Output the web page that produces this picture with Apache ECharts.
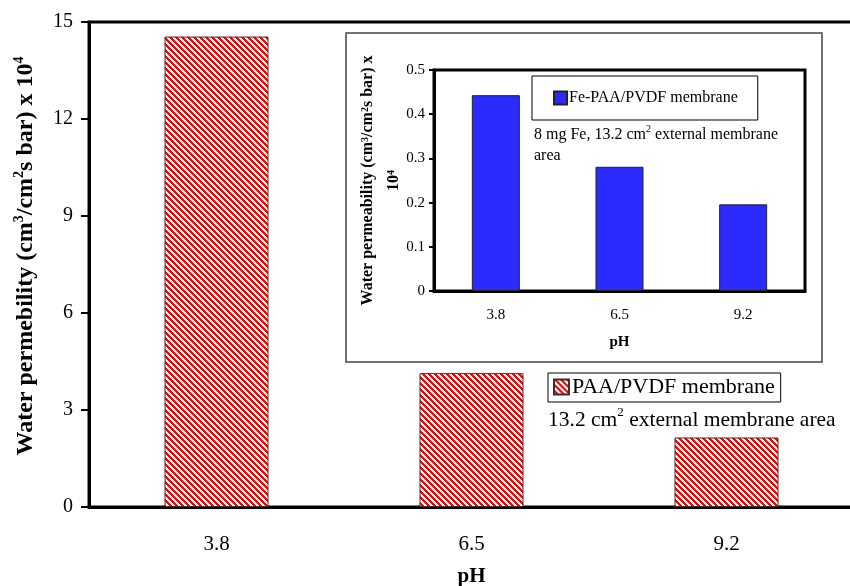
<!DOCTYPE html>
<html>
<head>
<meta charset="utf-8">
<script src="https://cdn.jsdelivr.net/npm/echarts@6/dist/echarts.min.js"></script>
<style>
  html, body { margin: 0; padding: 0; background: #fff; }
  #chart { width: 850px; height: 586px; }
</style>
</head>
<body>
<div id="chart"></div>
<script>
// data
var phLabels = ['3.8', '6.5', '9.2'];
var paaValues = [14.55, 4.14, 2.15];        // main chart, PAA/PVDF
var feValues = [0.443, 0.281, 0.196];       // inset, Fe-PAA/PVDF

var serif = '"Liberation Serif", "Times New Roman", serif';

// red diagonal hatch (\\\), crisp pixels
function hatch() {
  var n = 6;
  var c = document.createElement('canvas');
  c.width = n; c.height = n;
  var g = c.getContext('2d');
  g.fillStyle = '#fff';
  g.fillRect(0, 0, n, n);
  g.fillStyle = '#ff0000';
  for (var x = 0; x < n; x++) {
    for (var y = 0; y < n; y++) {
      if (((x - y) % n + n) % n < 3) g.fillRect(x, y, 1, 1);
    }
  }
  return c;
}
var hatchImg = hatch();

var chart = echarts.init(document.getElementById('chart'));

var richBig = {
  b: { fontSize: 24, fontWeight: 'bold', fontFamily: serif, color: '#000', lineHeight: 28 },
  s: { fontSize: 14, fontWeight: 'bold', fontFamily: serif, color: '#000', lineHeight: 28, verticalAlign: 'top' }
};
var richSmall = {
  b: { fontSize: 16, fontWeight: 'bold', fontFamily: serif, color: '#000', lineHeight: 26, verticalAlign: 'top' },
  s: { fontSize: 10, fontWeight: 'bold', fontFamily: serif, color: '#000', lineHeight: 26, verticalAlign: 'top' }
};

chart.setOption({
  animation: false,
  grid: [
    { left: 89, top: 22, right: -4, bottom: 79, outerBoundsMode: 'none',
      show: true, borderWidth: 3, borderColor: '#000' },
    { left: 434, top: 70, right: 45, bottom: 295, outerBoundsMode: 'none',
      show: true, borderWidth: 3, borderColor: '#000' }
  ],
  legend: [
    {
      data: ['PAA/PVDF membrane'],
      left: 548, top: 373,
      icon: 'rect',
      itemWidth: 15, itemHeight: 15, itemGap: 4,
      padding: [3, 6, 4, 5],
      borderColor: '#000', borderWidth: 1, backgroundColor: '#fff',
      selectedMode: false,
      textStyle: { fontFamily: serif, fontSize: 22, color: '#000', padding: [0, 0, 0, -2] }
    },
    {
      data: ['Fe-PAA/PVDF membrane'],
      left: 532, top: 76,
      icon: 'rect',
      itemWidth: 13, itemHeight: 13, itemGap: 4,
      padding: [14, 20, 14, 21],
      borderColor: '#000', borderWidth: 1, backgroundColor: '#fff',
      selectedMode: false,
      textStyle: { fontFamily: serif, fontSize: 16, color: '#000', padding: [0, 0, 0, -3] }
    }
  ],
  xAxis: [
    {
      gridIndex: 0, type: 'category', data: phLabels,
      axisLine: { lineStyle: { color: '#000', width: 3 } },
      axisTick: { show: false },
      axisLabel: { fontFamily: serif, fontSize: 21, color: '#000', margin: 27 },
      name: 'pH', nameLocation: 'middle', nameGap: 59,
      nameTextStyle: { fontFamily: serif, fontSize: 21, fontWeight: 'bold', color: '#000' }
    },
    {
      gridIndex: 1, type: 'category', data: phLabels,
      axisLine: { lineStyle: { color: '#000', width: 3 } },
      axisTick: { show: false },
      axisLabel: { fontFamily: serif, fontSize: 15, color: '#000', margin: 17 },
      name: 'pH', nameLocation: 'middle', nameGap: 44,
      nameTextStyle: { fontFamily: serif, fontSize: 15, fontWeight: 'bold', color: '#000' }
    }
  ],
  yAxis: [
    {
      gridIndex: 0, type: 'value', min: 0, max: 15, interval: 3,
      axisLine: { show: true, lineStyle: { color: '#000', width: 3 } },
      axisTick: { show: true, length: 8, lineStyle: { color: '#000', width: 2 } },
      axisLabel: { fontFamily: serif, fontSize: 20, color: '#000', margin: 16 },
      splitLine: { show: false },
      name: '{b|Water permebility (cm}{s|3}{b|/cm}{s|2}{b|s bar) x 10}{s|4}',
      nameLocation: 'middle', nameGap: 49, nameRotate: 90,
      nameTextStyle: { rich: richBig, padding: [0, 0, 0, 17] }
    },
    {
      gridIndex: 1, type: 'value', min: 0, max: 0.5, interval: 0.1,
      axisLine: { show: true, lineStyle: { color: '#000', width: 3 } },
      axisTick: { show: true, length: 5, lineStyle: { color: '#000', width: 2 } },
      axisLabel: { fontFamily: serif, fontSize: 15, color: '#000', margin: 9,
        formatter: function (v) { return String(+v.toFixed(1)); } },
      splitLine: { show: false },
      name: '{b|Water permeability (cm}{s|3}{b|/cm}{s|2}{b|s bar) x}\n{b|10}{s|4}',
      nameLocation: 'middle', nameGap: 22, nameRotate: 90,
      nameTextStyle: { rich: richSmall, align: 'center' }
    }
  ],
  series: [
    {
      name: 'PAA/PVDF membrane', type: 'bar',
      xAxisIndex: 0, yAxisIndex: 0,
      data: paaValues, barWidth: 104,
      itemStyle: { color: { image: hatchImg, repeat: 'repeat' }, borderColor: '#333', borderWidth: 1 }
    },
    {
      name: 'Fe-PAA/PVDF membrane', type: 'bar',
      xAxisIndex: 1, yAxisIndex: 1,
      data: feValues, barWidth: 48,
      itemStyle: { color: '#2b2bff', borderColor: '#222', borderWidth: 1 }
    }
  ],
  graphic: [
    {
      type: 'rect', z: -1,
      shape: { x: 346, y: 33, width: 476, height: 329 },
      style: { fill: 'none', stroke: '#444', lineWidth: 1.5 }
    },
    {
      type: 'text', left: 548, top: 406,
      style: {
        text: '{a|13.2 cm}{s|2}{a| external membrane area}',
        rich: {
          a: { fontFamily: serif, fontSize: 21.5, color: '#000', lineHeight: 28 },
          s: { fontFamily: serif, fontSize: 13, color: '#000', lineHeight: 28, verticalAlign: 'top' }
        }
      }
    },
    {
      type: 'text', left: 534, top: 124,
      style: {
        text: '{a|8 mg Fe, 13.2 cm}{s|2}{a| external membrane}\n{a|area}',
        rich: {
          a: { fontFamily: serif, fontSize: 16, color: '#000', lineHeight: 21 },
          s: { fontFamily: serif, fontSize: 10, color: '#000', lineHeight: 21, verticalAlign: 'top' }
        }
      }
    }
  ]
});
</script>
</body>
</html>
